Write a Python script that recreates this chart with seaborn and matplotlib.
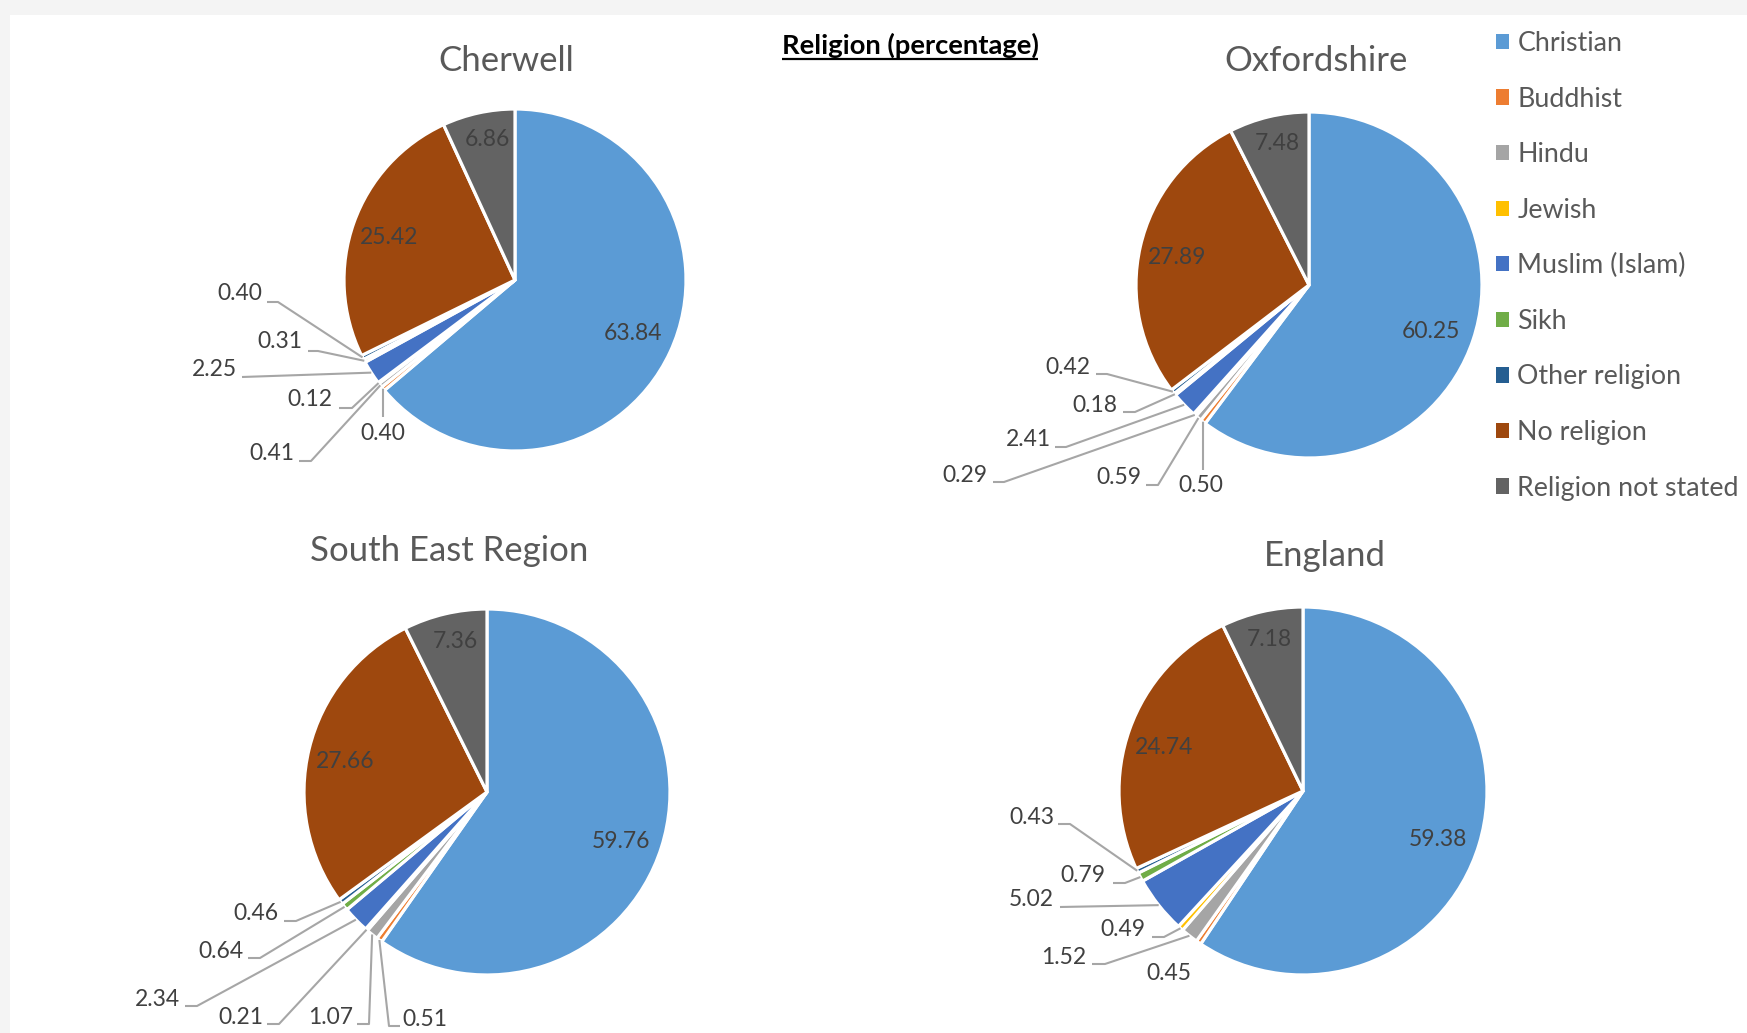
import math
import matplotlib
matplotlib.use("Agg")
import matplotlib.pyplot as plt
import seaborn as sns
from matplotlib.patches import Patch, Rectangle

# ---------------- data ----------------
religions = ["Christian", "Buddhist", "Hindu", "Jewish", "Muslim (Islam)", "Sikh",
             "Other religion", "No religion", "Religion not stated"]
areas = ["Cherwell", "Oxfordshire", "South East Region", "England"]
cherwell = [63.84, 0.40, 0.41, 0.12, 2.25, 0.31, 0.40, 25.42, 6.86]
oxfordshire = [60.25, 0.50, 0.59, 0.29, 2.41, 0.18, 0.42, 27.89, 7.48]
south_east = [59.76, 0.51, 1.07, 0.21, 2.34, 0.64, 0.46, 27.66, 7.36]
england = [59.38, 0.45, 1.52, 0.49, 5.02, 0.79, 0.43, 24.74, 7.18]
chart_title = "Religion (percentage)"

colors = ["#5B9BD5", "#ED7D31", "#A5A5A5", "#FFC000", "#4472C4", "#70AD47",
          "#255E91", "#9E480E", "#636363"]

# ---------------- layout (pixel positions, y measured from top) ----------------
W, H = 1747, 1033
layout = {
    "Cherwell": dict(
        center=(515, 280), radius=171, title=(506, 61),
        inside={0: (633, 334), 7: (389, 238), 8: (487, 139)},
        small={1: ((383, 433), [(383, 417)]),
               2: ((272, 453), [(299, 461), (311, 461)]),
               3: ((310, 400), [(339, 408), (352, 408)]),
               4: ((214, 369), [(242, 377)]),
               5: ((280, 342), [(308, 351), (318, 351)]),
               6: ((240, 294), [(267, 302), (278, 302)])}),
    "Oxfordshire": dict(
        center=(1309, 285), radius=173, title=(1316, 61),
        inside={0: (1431, 331), 7: (1177, 257), 8: (1277, 144)},
        small={1: ((1201, 485), [(1203, 470)]),
               2: ((1119, 478), [(1146, 485), (1158, 485)]),
               3: ((965, 475), [(993, 482), (1004, 482)]),
               4: ((1028, 440), [(1055, 447), (1066, 447)]),
               5: ((1095, 405), [(1123, 412), (1135, 412)]),
               6: ((1068, 368), [(1096, 374), (1107, 374)])}),
    "South East Region": dict(
        center=(487, 792), radius=183, title=(449, 551),
        inside={0: (621, 841), 7: (345, 761), 8: (455, 642)},
        small={1: ((425, 1019), [(400, 1026), (389, 1026)]),
               2: ((331, 1017), [(357, 1024), (369, 1024)]),
               3: ((241, 1017), [(267, 1024), (279, 1024)]),
               4: ((157, 999), [(185, 1006), (197, 1006)]),
               5: ((221, 952), [(248, 958), (260, 958)]),
               6: ((256, 913), [(284, 921), (296, 921)])}),
    "England": dict(
        center=(1303, 791), radius=184, title=(1325, 556),
        inside={0: (1438, 839), 7: (1164, 748), 8: (1269, 640)},
        small={1: ((1169, 973), []),
               2: ((1064, 957), [(1092, 964), (1105, 964)]),
               3: ((1123, 929), [(1152, 937), (1164, 937)]),
               4: ((1031, 900), [(1060, 907)]),
               5: ((1083, 876), [(1113, 883), (1125, 883)]),
               6: ((1032, 818), [(1058, 824), (1070, 824)])}),
}
series = {"Cherwell": cherwell, "Oxfordshire": oxfordshire,
          "South East Region": south_east, "England": england}

# ---------------- style ----------------
sns.set_theme(style="white")
plt.rcParams["font.family"] = ["Lato", "DejaVu Sans"]

LABEL_COLOR = "#404040"
TITLE_COLOR = "#595959"
LINE_COLOR = "#A6A6A6"
LABEL_SIZE = 16.5

fig = plt.figure(figsize=(W / 100, H / 100), dpi=100, facecolor="#F4F4F4")
ax = fig.add_axes([0, 0, 1, 1])


def yy(y):
    return H - y


for area in areas:
    vals = series[area]
    lay = layout[area]
    cx, cy = lay["center"]
    r = lay["radius"]
    wedges, _ = ax.pie(vals, colors=colors, startangle=90, counterclock=False,
                       center=(cx, yy(cy)), radius=r,
                       wedgeprops=dict(edgecolor="white", linewidth=2.3))
    tx, ty = lay["title"]
    ax.text(tx, yy(ty), area, ha="center", va="center", fontsize=25,
            color=TITLE_COLOR)
    for i, (lx, ly) in lay["inside"].items():
        ax.text(lx, yy(ly), f"{vals[i]:.2f}", ha="center", va="center",
                fontsize=LABEL_SIZE, color=LABEL_COLOR)
    for i, ((lx, ly), pts) in lay["small"].items():
        ax.text(lx, yy(ly), f"{vals[i]:.2f}", ha="center", va="center",
                fontsize=LABEL_SIZE, color=LABEL_COLOR)
        if pts:
            w = wedges[i]
            mid = math.radians((w.theta1 + w.theta2) / 2)
            tip = (cx + r * math.cos(mid), yy(cy) + r * math.sin(mid))
            xs = [p[0] for p in pts] + [tip[0]]
            ys = [yy(p[1]) for p in pts] + [tip[1]]
            ax.plot(xs, ys, color=LINE_COLOR, lw=1.5, solid_capstyle="butt")

# white chart area
ax.add_patch(Rectangle((10, 0), W - 10, H - 15, facecolor="white",
                       edgecolor="none", zorder=-10))

ax.set_xlim(0, W)
ax.set_ylim(0, H)
ax.set_aspect("equal")
ax.set_axis_off()

# main title, bold and underlined
t = ax.text(910, yy(54), chart_title, ha="center", va="baseline",
            fontsize=19.7, fontweight="bold", color="black")
fig.canvas.draw()
bb = t.get_window_extent(renderer=fig.canvas.get_renderer())
inv = ax.transData.inverted()
(x0, _), (x1, _) = inv.transform([(bb.x0, 0), (bb.x1, 0)])
ax.plot([x0, x1], [yy(59), yy(59)], color="black", lw=1.6, solid_capstyle="butt")

# legend
handles = [Patch(facecolor=c, edgecolor="none") for c in colors]
ax.legend(handles, religions, loc="upper left",
          bbox_to_anchor=(1496 / W, 1 - 31 / H), frameon=False,
          fontsize=19.3, labelcolor=TITLE_COLOR, handlelength=0.5,
          handleheight=0.5, handletextpad=0.3, labelspacing=1.14,
          borderpad=0, borderaxespad=0)

fig.savefig("out.png", dpi=100, facecolor=fig.get_facecolor())
